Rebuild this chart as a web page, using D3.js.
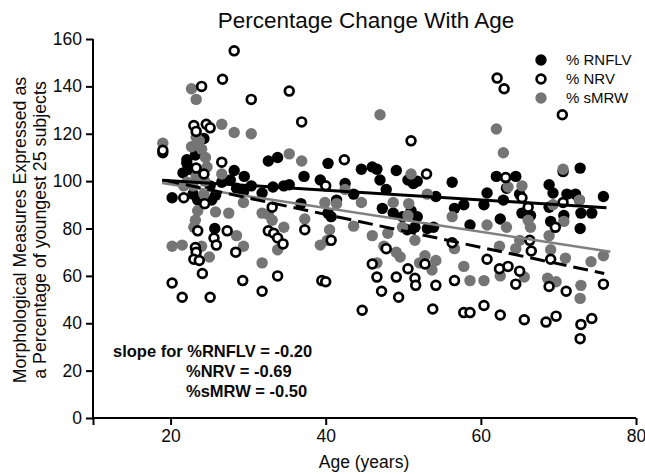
<!DOCTYPE html>
<html><head><meta charset="utf-8">
<script src="https://cdn.jsdelivr.net/npm/d3@7/dist/d3.min.js"></script>
<style>body{margin:0;background:#fff}svg{display:block;font-family:Arial,"Liberation Sans",sans-serif}</style>
</head><body><svg id="c" width="645" height="474"></svg>
<script>
const xTicks=[20,40,60,80];
const yTicks=[0,20,40,60,80,100,120,140,160];
const seriesNames=["% RNFLV","% NRV","% sMRW"];
const rnflv=[[19,112],[20.2,93],[21.6,103.5],[22.1,107.5],[22.1,109],[22.4,105],[22.9,94.5],[23.2,111],[23.5,92],[24.3,118],[25.1,98],[25.8,94],[25.3,92],[25.7,80],[26.6,99.5],[27.7,100.5],[28.2,104.5],[28.5,97],[29.5,102],[30.4,98],[29.4,95.5],[31.8,95],[32.6,108.5],[33.8,110],[33.2,97.5],[34.6,98],[35.3,98.5],[37.2,102],[36.8,90.5],[39.3,100.5],[40.3,107.5],[40.3,86.5],[40.7,85],[41.4,92],[42.5,99],[43.6,94.5],[44.6,105],[46.0,106],[46.6,105],[47.0,100.5],[47.8,96.5],[47.3,88.5],[49.1,104.5],[48.7,86.5],[49.9,85],[50.5,79.5],[50.6,100.5],[51.3,99],[51.8,100],[51.8,85],[51.0,87.5],[51.5,80.5],[53.1,80],[53.9,80.5],[54.2,93.5],[56.3,99.5],[56.6,88.5],[57.8,90],[58.6,81.5],[60.4,90],[60.8,95],[62.0,102],[62.5,84],[62.9,92],[63.3,97],[64.5,102],[65.0,94.5],[65.3,86.5],[66.4,85.5],[68.8,98.5],[69.0,83],[69.3,95],[68.8,89],[70.6,104],[70.7,85.5],[71.1,94.5],[72.2,94.5],[72.7,92],[72.8,105.5],[72.8,80],[72.9,86.5],[74.3,86.5],[75.8,93.5]];
const nrv=[[19,113],[20.2,57],[21.5,51],[21.7,93],[24.0,140],[23.0,123.5],[23.3,121],[23.3,105.5],[23.5,79],[23.2,72],[23.3,70],[23.0,67],[23.7,66.5],[24.1,61],[24.6,124],[25.1,122.5],[24.3,103],[24.4,90.5],[25.1,51],[25.6,76],[25.9,73],[26.6,108],[26.7,143],[27.3,79],[28.2,155],[28.4,70],[29.3,58],[30.4,134.5],[31.8,53.5],[32.6,79],[33.1,89],[33.3,78],[33.8,76],[34.5,73.5],[33.8,60],[35.3,138],[36.9,125],[37.3,79.5],[39.5,58],[40.0,57.5],[40.0,98],[40.7,75],[42.4,109],[44.7,45.5],[46.0,65],[46.6,59.5],[47.2,53.5],[47.8,71.5],[49.1,59.5],[49.4,51],[50.6,63],[51.0,117],[51.5,59],[51.6,56],[53.0,103],[52.8,65],[53.8,46],[54.2,56],[56.3,74],[56.6,58],[57.8,44.5],[58.6,44.5],[60.4,47.5],[60.8,67],[62.1,143.5],[63.0,139],[62.4,63],[62.5,43.5],[63.5,64],[63.2,101.5],[64.5,56.5],[65.0,62],[65.3,93],[65.6,41.5],[66.1,89],[66.3,75],[66.5,70.5],[68.4,40.5],[68.8,55.5],[69.0,67],[69.7,43],[69.6,80.5],[70.5,128],[70.6,91],[71.0,53.5],[72.8,33.5],[72.9,39.5],[74.3,42],[75.8,56.5]];
const smrw=[[19,116],[20.2,72.5],[21.5,73],[21.7,98],[22.7,139],[23.3,134.5],[23.3,118.5],[22.7,114.5],[23.7,117],[24.0,113.5],[23.3,102],[22.9,98],[22.1,99.5],[24.4,100],[24.5,110],[24.7,106],[23.0,80.5],[23.2,83.5],[23.5,87.5],[24.0,72.5],[25.0,68],[24.3,94.5],[25.8,87],[26.6,124],[26.6,103],[27.5,86.5],[28.2,120.5],[28.5,77],[29.4,72.5],[29.4,91],[30.4,120],[31.8,86.5],[31.8,65.5],[32.6,86],[33.1,83.5],[33.8,71],[34.6,80.5],[35.3,111.5],[36.9,108.5],[37.3,84],[39.3,73],[39.9,91],[40.2,75],[40.5,79.5],[41.4,90.5],[42.5,96.5],[43.6,81],[44.6,91],[46.0,77],[47.0,128],[46.6,65.5],[47.5,72.5],[48.0,78],[48.7,91],[49.1,70],[49.6,68],[49.9,80.5],[50.6,85.5],[50.7,90.5],[51.0,103],[51.5,75],[52.1,65.5],[52.8,68.5],[53.1,94.5],[53.7,62.5],[54.2,66.5],[56.3,85],[56.6,71.5],[57.8,64],[58.6,58],[60.4,58],[60.8,81.5],[62.0,122],[62.9,112],[62.4,72.5],[62.5,60],[63.3,80.5],[63.5,97.5],[64.5,71.5],[65.0,75],[65.3,98],[65.6,59.5],[66.4,80.5],[66.1,83.5],[68.8,77],[69.0,71],[68.6,59],[69.7,57.5],[69.3,90],[70.6,105],[70.7,83],[70.9,67.5],[72.7,92],[72.9,56],[72.8,50.5],[74.2,66],[75.8,68.5]];
const rnflvFit=[[18.9,100.4],[76.2,88.8]];
const nrvFit=[[19.2,100.4],[75.9,61]];
const smrwFit=[[18.9,99.2],[76.7,70.2]];
const slopeLines=["slope for %RNFLV = -0.20","%NRV = -0.69","%sMRW = -0.50"];

const svg=d3.select("#c");
const x=d3.scaleLinear().domain([10,80]).range([93,636]);
const y=d3.scaleLinear().domain([0,160]).range([418,39]);
const GRAY="#757575";
const INK="#0a0a0a";

// axes
const xAxis=svg.append("g").attr("transform","translate(0,418)")
  .call(d3.axisBottom(x).tickValues([10,...xTicks]).tickSize(7).tickPadding(5).tickFormat(d=>xTicks.includes(d)?d:""));
const yAxis=svg.append("g").attr("transform","translate(93,0)")
  .call(d3.axisLeft(y).tickValues(yTicks).tickSize(7).tickPadding(4));
[xAxis,yAxis].forEach(a=>{
  a.select(".domain").attr("stroke","#000").attr("stroke-width",2);
  a.selectAll(".tick line").attr("stroke","#000").attr("stroke-width",2);
  a.selectAll(".tick text").attr("font-size",17.5).attr("fill",INK).attr("font-family","Arial,'Liberation Sans',sans-serif");
});
xAxis.select(".domain").attr("d","M93,0H636");
yAxis.select(".domain").attr("d","M0,418V39");

const R=5.7, RO=4.4, SW=2.7;
// points
svg.append("g").selectAll("circle").data(rnflv).join("circle")
  .attr("cx",d=>x(d[0])).attr("cy",d=>y(d[1])).attr("r",R).attr("fill","#000");
svg.append("g").selectAll("circle").data(smrw).join("circle")
  .attr("cx",d=>x(d[0])).attr("cy",d=>y(d[1])).attr("r",R).attr("fill",GRAY);
svg.append("g").selectAll("circle").data(nrv).join("circle")
  .attr("cx",d=>x(d[0])).attr("cy",d=>y(d[1])).attr("r",RO).attr("fill","#fff").attr("stroke","#000").attr("stroke-width",SW);

// fit lines
const line=d3.line().x(d=>x(d[0])).y(d=>y(d[1]));
svg.append("path").attr("d",line(smrwFit)).attr("stroke","#808080").attr("stroke-width",2.5).attr("fill","none");
svg.append("path").attr("d",line(rnflvFit)).attr("stroke","#000").attr("stroke-width",3).attr("fill","none");
svg.append("path").attr("d",line(nrvFit)).attr("stroke","#000").attr("stroke-width",3).attr("stroke-dasharray","15,7").attr("fill","none");

// legend
const leg=svg.append("g");
const ly=[60,79,98];
leg.append("circle").attr("cx",541).attr("cy",ly[0]).attr("r",R).attr("fill","#000");
leg.append("circle").attr("cx",541).attr("cy",ly[1]).attr("r",RO).attr("fill","#fff").attr("stroke","#000").attr("stroke-width",SW);
leg.append("circle").attr("cx",541).attr("cy",ly[2]).attr("r",R).attr("fill",GRAY);
seriesNames.forEach((s,i)=>leg.append("text").attr("x",566).attr("y",ly[i]).attr("dy","0.35em").attr("font-size",15).attr("fill",INK).text(s));

// annotation
const ann=[[113,351],[186,371],[186,391]];
slopeLines.forEach((s,i)=>svg.append("text").attr("x",ann[i][0]).attr("y",ann[i][1]).attr("dy","0.35em").attr("font-size",16.5).attr("font-weight","bold").attr("fill",INK).text(s));

// titles
svg.append("text").attr("x",366).attr("y",20).attr("dy","0.35em").attr("text-anchor","middle").attr("font-size",22.5).attr("fill",INK).text("Percentage Change With Age");
svg.append("text").attr("x",364).attr("y",462).attr("dy","0.35em").attr("text-anchor","middle").attr("font-size",17.5).attr("fill",INK).text("Age (years)");
svg.append("text").attr("transform","translate(20,230) rotate(-90)").attr("dy","0.35em").attr("text-anchor","middle").attr("font-size",17.8).attr("fill",INK).text("Morphological Measures Expressed as");
svg.append("text").attr("transform","translate(40,230) rotate(-90)").attr("dy","0.35em").attr("text-anchor","middle").attr("font-size",17.8).attr("fill",INK).text("a Percentage of youngest 25 subjects");
</script></body></html>
